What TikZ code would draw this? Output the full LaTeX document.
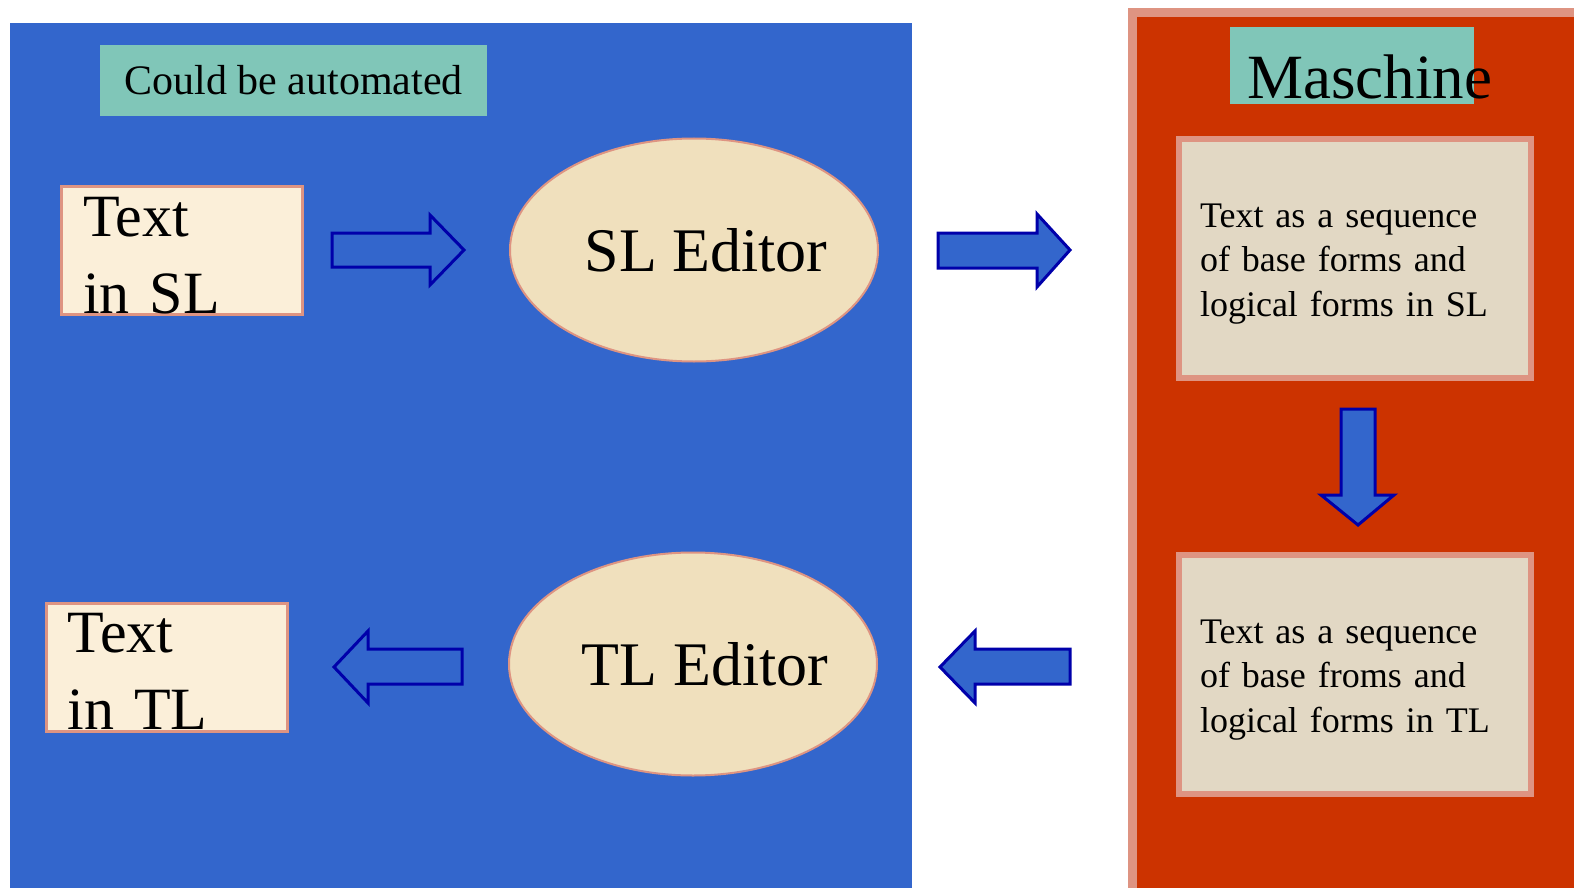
\documentclass[tikz,border=0pt]{standalone}
\usepackage{fontspec}
\setmainfont{Liberation Serif}
\usetikzlibrary{shapes.geometric}

\definecolor{panelblue}{HTML}{3366CC}
\definecolor{panelred}{HTML}{CC3300}
\definecolor{rim}{HTML}{DE9482}
\definecolor{mint}{HTML}{80C6B8}
\definecolor{arrowline}{HTML}{0000AA}
\definecolor{paper}{HTML}{FBEFD9}
\definecolor{parch}{HTML}{F0E0BD}
\definecolor{linen}{HTML}{E2D8C4}

\begin{document}
\begin{tikzpicture}[x=1pt,y=-1pt,
        textbox/.style={draw=rim, line width=3pt, fill=paper, inner ysep=0pt, inner xsep=21.5pt, text width=198pt, align=left, minimum height=128pt, font=\fontsize{60}{77}\selectfont},
        editor/.style={ellipse, draw=rim, line width=2pt, fill=parch, minimum width=368pt, minimum height=223pt, font=\fontsize{62}{72}\selectfont},
        formbox/.style={draw=rim, line width=6pt, fill=linen, inner xsep=21pt, text width=310pt, align=left, minimum height=239pt, font=\fontsize{36}{44.5}\selectfont},
        tag/.style={fill=mint, inner sep=0pt},
        hollow/.style={draw=arrowline, line width=3pt, fill=panelblue, line join=miter}]
        \useasboundingbox (0,0) rectangle (1574,888); %画面の大きさ
        \fill[white] (0,0) rectangle (1574,888);
        \fill[panelblue] (10,23) rectangle (912,888); %左の青い部分
        \fill[rim] (1128,8) rectangle (1574,888); %右の枠
        \fill[panelred] (1137,17) rectangle (1574,888);

        \node[tag, minimum width=387pt, minimum height=71pt, font=\fontsize{42}{48}\selectfont] (auto) at (293.5,80.5) {Could be automated};
        \node[textbox] (srcText) at (182,250.5) {\rule{0pt}{50pt}Text\\in SL};
        \node[editor] (slEd) at (694,250) {\makebox[0pt]{\hspace{24pt}SL Editor}};
        \node[editor] (tlEd) at (693,664) {\makebox[0pt]{\hspace{24pt}TL Editor}};
        \node[textbox] (tgtText) at (166.5,667) {\rule{0pt}{48pt}Text\\in TL};

        \node[tag, minimum width=244pt, minimum height=77pt] (machBg) at (1352,65.5) {}; %見出しの背景
        \node[anchor=base west, inner sep=0pt, font=\fontsize{63}{70}\selectfont] (mach) at (1247,99) {Maschine};
        \node[formbox] (slForm) at (1355,258.5) {\rule{0pt}{34pt}Text as a sequence\\of base forms and\\logical forms in SL};
        \node[formbox] (tlForm) at (1355,674.5) {\rule{0pt}{34pt}Text as a sequence\\of base froms and\\logical forms in TL};

        %矢印
        \draw[hollow] (332,233) -- (430,233) -- (430,215) -- (464,250) -- (430,285) -- (430,267) -- (332,267) -- cycle;
        \draw[hollow] (938,233) -- (1037,233) -- (1037,214) -- (1070,250) -- (1037,287) -- (1037,268) -- (938,268) -- cycle;
        \draw[hollow] (1341,409) -- (1375,409) -- (1375,495) -- (1394,495) -- (1358,525) -- (1321,495) -- (1341,495) -- cycle;
        \draw[hollow] (1070,649) -- (975,649) -- (975,631) -- (940,667) -- (975,703) -- (975,684) -- (1070,684) -- cycle;
        \draw[hollow] (462,649) -- (368,649) -- (368,631) -- (334,667) -- (368,703) -- (368,684) -- (462,684) -- cycle;

    \end{tikzpicture}
\end{document}
